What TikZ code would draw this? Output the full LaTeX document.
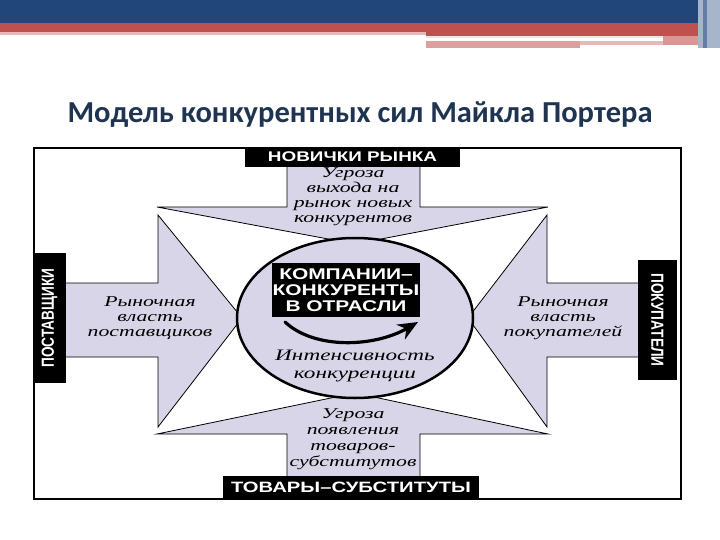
\documentclass[tikz,border=0pt]{standalone}
\usepackage{fontspec}
\setmainfont{Liberation Serif}
\newfontfamily\titlefont{Carlito}
\newfontfamily\labfont{Liberation Sans}[FakeStretch=1.35]
\newfontfamily\narrowfont{Liberation Sans}[FakeStretch=0.78]
\newfontfamily\itfont{Liberation Serif}[FakeStretch=1.45]
\usetikzlibrary{arrows.meta}
\definecolor{lav}{RGB}{217,213,232}
\definecolor{topblue}{RGB}{33,70,122}
\definecolor{topred}{RGB}{192,80,77}
\definecolor{titlecol}{RGB}{30,52,80}
\begin{document}
\begin{tikzpicture}[x=1pt,y=-1pt,
  arrowshape/.style={fill=lav, draw=black, line width=0.8pt, line join=miter},
  blacklab/.style={fill=black, text=white, inner sep=0pt},
  ittext/.style={font=\itfont\itshape\fontsize{15}{15}\selectfont, align=center, inner sep=0pt}]
\useasboundingbox (0,0) rectangle (720,540);
% top decoration
\fill[topblue] (0,0) rectangle (720,23);
\fill[topred] (0,23) rectangle (720,32);
\fill[topred] (426,32) rectangle (720,36);
\fill[topred!40] (0,32) rectangle (426,35);
\fill[topred!15] (426,36) rectangle (667,38);
\fill[topred!55] (426,41) rectangle (580,48);
\fill[topred!40] (580,41) rectangle (663,45);
\fill[topred!60] (663,36) rectangle (698,45);
\fill[topblue!40] (698,0) rectangle (720,48);
\fill[topblue!70] (703,0) rectangle (707,48);
% title
\node[anchor=base, text=titlecol, font=\titlefont\bfseries\fontsize{30.5}{32}\selectfont] (title) at (360,123) {Модель конкурентных сил Майкла Портера};
% frame
\draw[line width=2.5pt, fill=white] (34,148) rectangle (681,499);
% arrows
\filldraw[arrowshape] (287,167) -- (287,207) -- (157,207) -- (355,244) -- (548,207) -- (420,207) -- (420,167);
\filldraw[arrowshape] (66,283) -- (158,283) -- (158,215) -- (242,318) -- (158,427) -- (158,357) -- (66,357);
\filldraw[arrowshape] (638,283) -- (547,283) -- (547,215) -- (468,318) -- (547,427) -- (547,357) -- (638,357);
\filldraw[arrowshape] (287,476) -- (287,434) -- (157,434) -- (355,393) -- (548,434) -- (420,434) -- (420,476);
% centre ellipse
\draw[fill=lav, line width=2.5pt] (355,318) ellipse [x radius=118pt, y radius=80pt];
% labels
\node[blacklab, minimum width=215pt, minimum height=20pt] (newc) at (352.5,157)
  {\labfont\bfseries\fontsize{14}{14}\selectfont НОВИЧКИ РЫНКА};
\node[blacklab, minimum width=256pt, minimum height=23pt] (subs) at (351,487.5)
  {\labfont\bfseries\fontsize{15}{15}\selectfont ТОВАРЫ–СУБСТИТУТЫ};
\node[blacklab, rotate=90, minimum width=130pt, minimum height=33pt] (supp) at (49.5,318)
  {\narrowfont\bfseries\fontsize{17.5}{17.5}\selectfont ПОСТАВЩИКИ};
\node[blacklab, rotate=-90, minimum width=120pt, minimum height=39pt] (buy) at (657.5,320)
  {\narrowfont\bfseries\fontsize{17.5}{17.5}\selectfont ПОКУПАТЕЛИ};
\node[blacklab, minimum width=148pt, minimum height=54pt, align=center,
  font=\labfont\bfseries\fontsize{15.5}{16}\selectfont] (comp) at (346,290)
  {КОМПАНИИ–\\КОНКУРЕНТЫ\\В ОТРАСЛИ};
% curved arrow
\coordinate (ca) at (285,322);
\coordinate (cb) at (418,322);
\draw[line width=3.2pt, line cap=round, -{Stealth[length=20pt,width=17pt]}] (ca) .. controls (315,350) and (375,347) .. (cb);
% italic texts
\node[ittext] (tnew) at (353,197) {Угроза\\выхода на\\рынок новых\\конкурентов};
\node[ittext] (tsup) at (150,318) {Рыночная\\власть\\поставщиков};
\node[ittext] (tbuy) at (563,318) {Рыночная\\власть\\покупателей};
\node[ittext, font=\itfont\itshape\fontsize{15}{16}\selectfont] (tsub) at (353,439) {Угроза\\появления\\товаров-\\субститутов};
\node[ittext, font=\itfont\itshape\fontsize{16}{18}\selectfont] (tint) at (355,366) {Интенсивность\\конкуренции};
\end{tikzpicture}
\end{document}
